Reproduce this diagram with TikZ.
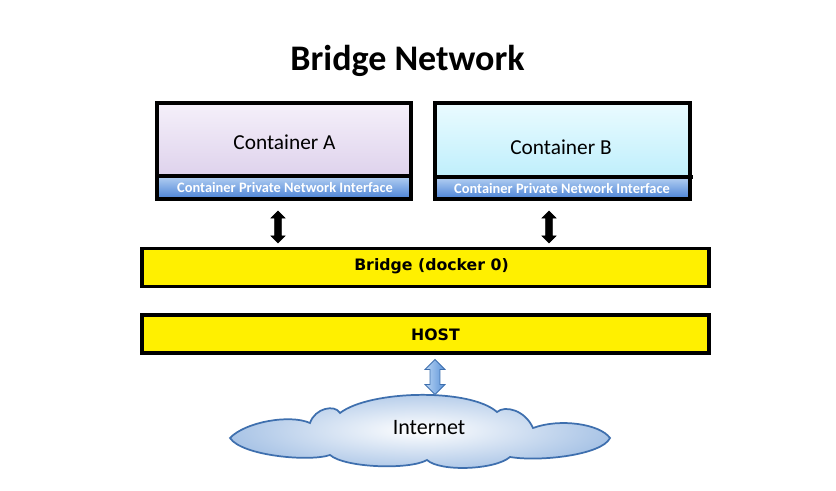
\documentclass[tikz,border=0pt]{standalone}
\usepackage{fontspec}
\setmainfont{Carlito}
\newfontfamily\barfont{DejaVu Sans}
\usetikzlibrary{shapes.arrows}
\definecolor{barY}{HTML}{FFF000}
\definecolor{lavTop}{HTML}{F5F0FA}
\definecolor{lavBot}{HTML}{DED2EC}
\definecolor{cyTop}{HTML}{EAFBFF}
\definecolor{cyBot}{HTML}{BFEFFC}
\definecolor{ifTop}{HTML}{B4D0F2}
\definecolor{ifBot}{HTML}{4A82D6}
\definecolor{cloudEdge}{HTML}{3E6FAE}
\definecolor{cloudOut}{HTML}{A9C4E6}
\definecolor{arrTop}{HTML}{B8D4F4}
\definecolor{arrBot}{HTML}{5C93D8}
\tikzset{
  boxline/.style={draw=black, line width=2.4pt},
  ybar/.style={boxline, fill=barY, minimum width=567*0.75pt, minimum height=38*0.75pt, inner sep=0pt},
  bartext/.style={font=\barfont\fontsize{11.8}{14}\selectfont\bfseries},
  ctext/.style={font=\fontsize{16}{19}\selectfont},
  iface/.style={font=\fontsize{10.8}{12}\selectfont\bfseries, text=white},
  blackarrow/.style={double arrow, fill=black, draw=black, rotate=90, minimum width=0pt,
     double arrow head extend=3.6*0.75pt, minimum height=32*0.75pt, inner xsep=0pt, inner ysep=2.4pt},
  bluearrow/.style={double arrow, top color=arrTop, bottom color=arrBot, draw=cloudEdge, line width=0.6pt,
     rotate=90, minimum width=20*0.75pt, double arrow head extend=4*0.75pt, minimum height=35*0.75pt, inner sep=2.6pt, shading angle=90},
}
\begin{document}
\begin{tikzpicture}[x=0.75pt, y=-0.75pt]
\useasboundingbox (0,0) rectangle (836,491);
\fill[white] (0,0) rectangle (836,491);

% title
\node[font=\fontsize{27}{30}\selectfont\bfseries, anchor=base] (title) at (407.5,71) {Bridge Network};

% Container A
\shade[top color=lavTop, bottom color=lavBot] (157,103) rectangle (411,176);
\shade[top color=ifTop, bottom color=ifBot] (157,176) rectangle (411,199);
\draw[boxline] (157,103) rectangle (411,199);
\draw[boxline] (157,176) -- (413,176);
\node[ctext] (ca) at (284.5,142) {Container A};
\node[iface] (ia) at (285,188) {Container Private Network Interface};

% Container B
\shade[top color=cyTop, bottom color=cyBot] (435,103) rectangle (690,177);
\shade[top color=ifTop, bottom color=ifBot] (435,177) rectangle (690,199);
\draw[boxline] (435,103) rectangle (690,199);
\draw[boxline] (435,177) -- (693,177);
\node[ctext] (cb) at (561,147.5) {Container B};
\node[iface] (ib) at (562,189) {Container Private Network Interface};

% bars
\node[ybar] (bridge) at (425.5,267.5) {};
\node[bartext] (bridgetxt) at (431.5,266.5) {Bridge (docker 0)};
\node[ybar] (host) at (425.5,334) {};
\node[bartext] (hosttxt) at (435.5,335) {HOST};

% black arrows
\node[blackarrow] (arA) at (278,227) {};
\node[blackarrow] (arB) at (549,227) {};

% cloud
\draw[draw=cloudEdge, line width=1.3pt, inner color=white, outer color=cloudOut]
  (230,438)
  .. controls (245,422) and (290,414) .. (310,423)
  .. controls (315,408) and (335,404) .. (340,413)
  .. controls (370,390) and (470,388) .. (497,412)
  .. controls (505,405) and (525,410) .. (533,428)
  .. controls (560,418) and (600,424) .. (610,438)
  .. controls (602,455) and (540,462) .. (510,457)
  .. controls (495,470) and (440,472) .. (427,460)
  .. controls (410,470) and (345,468) .. (330,455)
  .. controls (310,462) and (242,456) .. (230,438) -- cycle;
\node[font=\fontsize{16.5}{19}\selectfont] (inet) at (429,428) {Internet};

% blue arrow
\node[bluearrow] (arH) at (435,377) {};
\end{tikzpicture}
\end{document}
